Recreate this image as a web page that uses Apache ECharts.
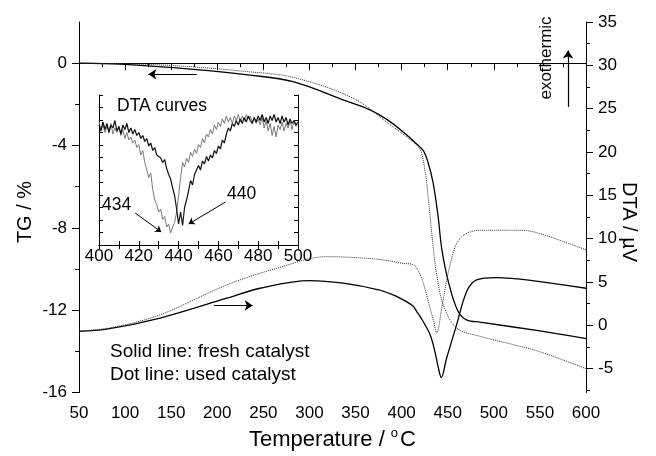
<!DOCTYPE html>
<html>
<head>
<meta charset="utf-8">
<script src="https://cdn.jsdelivr.net/npm/echarts@6/dist/echarts.min.js"></script>
<style>html,body{margin:0;padding:0;background:#fff}#c{width:656px;height:456px}</style>
</head>
<body>
<div id="c"></div>
<script>
// ---- data ----
const tgFreshT = [50, 94.5, 173.7, 235.5, 282.2, 336.4, 365.7, 387.4, 403.7, 414.5, 423.5, 428.5, 434, 439.5, 443.5, 450.6, 461.1, 470.9, 485, 550, 600];
const tgFresh  = [0, -0.05, -0.30, -0.58, -0.90, -1.78, -2.27, -2.84, -3.42, -3.85, -4.25, -4.80, -5.78, -7.42, -9.01, -10.60, -12.05, -12.48, -12.58, -13.01, -13.38];
const tgUsedT  = [50, 120, 173.7, 230, 282.2, 347.2, 387.4, 409.1, 419.9, 425.4, 429, 434.4, 438.1, 445.2, 459.7, 485, 520.8, 550, 600];
const tgUsed   = [0, -0.05, -0.18, -0.40, -0.69, -1.70, -2.99, -3.71, -4.19, -5.25, -6.60, -9.01, -10.29, -11.74, -12.87, -13.27, -13.67, -14.02, -14.84];
const dtaFreshT = [50, 80, 137.9, 210.2, 246.4, 300.6, 336.4, 375, 390.7, 398.2, 412.3, 416.3, 423, 430.8, 436, 439.8, 443, 448.9, 459.7, 470.6, 481.4, 503.1, 550, 600];
const dtaFresh  = [-0.70, -0.45, 0.84, 3.13, 4.28, 5.16, 4.86, 4.1, 3.52, 3.14, 2.22, 1.61, 0.5, -1.07, -3.0, -4.89, -6.03, -3.74, 0.08, 3.91, 5.24, 5.51, 5.05, 4.28];
const dtaUsedT  = [50, 83.6, 137.9, 210.2, 264.5, 318.7, 372.9, 401.5, 412.3, 417.8, 423.5, 430.8, 434.4, 438.1, 443.5, 452.5, 463.3, 485, 528.4, 550, 600];
const dtaUsed   = [-0.65, -0.3, 1.22, 4.66, 6.58, 7.92, 7.64, 7.15, 7.0, 6.35, 4.86, 1.99, 0.61, -0.87, 1.99, 6.95, 10.01, 10.97, 10.97, 10.59, 8.7];

const insetT = [400,401,402,403,404,405,406,407,408,409,410,411,412,413,414,415,416,417,418,419,420,421,422,423,424,425,426,427,428,429,430,431,432,433,434,435,436,437,438,439,440,441,442,443,444,445,446,447,448,449,450,451,452,453,454,455,456,457,458,459,460,461,462,463,464,465,466,467,468,469,470,471,472,473,474,475,476,477,478,479,480,481,482,483,484,485,486,487,488,489,490,491,492,493,494,495,496,497,498,499,500];
const insetFresh = [80,76,82,77,81,75,80,78,83,76,79,74,80,77,81,75,78,74,77,73,75,71,73,69,71,66,68,63,65,60,61,58,55,57,51,47,44,38,33,24,14,22,13,25,30,36,43,40,47,50,53,50,56,54,59,56,60,58,63,61,66,64,70,68,74,78,76,81,79,83,80,84,81,85,82,86,83,81,85,82,86,83,87,82,85,81,86,83,87,82,85,81,86,82,85,80,84,81,83,80,82];
const insetUsed  = [82,77,80,75,79,76,81,74,78,75,79,73,77,71,75,70,72,68,70,65,67,60,63,55,54,45,48,37,30,27,22,24,17,19,12,14,8,12,15,22,33,45,55,52,58,55,62,59,64,61,67,65,71,68,74,72,77,74,80,77,82,79,84,81,86,82,85,81,86,83,87,82,86,83,87,84,86,82,85,81,84,80,85,78,83,76,81,73,79,72,80,77,82,76,81,78,83,77,82,79,81];

const xMajor = 50;
const tgTicks = [-16, -12, -8, -4, 0];
const tgMinor = [-14, -10, -6, -2];
const dtaTicks = [-5, 0, 5, 10, 15, 20, 25, 30, 35];
const dtaMinor = [-7.5, -2.5, 2.5, 7.5, 12.5, 17.5, 22.5, 27.5, 32.5];

const pairs = (xs, ys) => xs.map((x, i) => [x, ys[i]]);
const FONT = '"Liberation Sans", Arial, sans-serif';
const black = '#000';

const chart = echarts.init(document.getElementById('c'), null, {renderer: 'canvas'});
const lineAx = {show: true, lineStyle: {color: black, width: 1}};

const option = {
  backgroundColor: '#fff',
  animation: false,
  textStyle: {fontFamily: FONT},
  grid: [
    {left: 79, right: 70, top: 22, bottom: 61},
    {left: 99, width: 199, top: 95, height: 150}
  ],
  xAxis: [
    {gridIndex: 0, type: 'value', position: 'bottom', min: 50, max: 600, interval: xMajor,
     axisLine: lineAx, axisTick: {show: true, inside: false, length: 7, lineStyle: {color: black}},
     minorTick: {show: true, splitNumber: 2, length: 4, lineStyle: {color: black}},
     axisLabel: {color: black, fontSize: 17, fontFamily: FONT, margin: 12},
     splitLine: {show: false},
     name: 'Temperature / {sup|o}C', nameLocation: 'middle', nameGap: 34,
     nameTextStyle: {color: black, fontSize: 22, fontFamily: FONT, rich: {sup: {fontSize: 13, verticalAlign: 'top', padding: [0, 2, 14, 0], fontFamily: FONT}}}},
    {gridIndex: 0, type: 'value', position: 'top', min: 50, max: 600, interval: xMajor,
     axisLine: lineAx, axisTick: {show: true, inside: true, length: 4, lineStyle: {color: black}},
     minorTick: {show: true, splitNumber: 2, length: 3, lineStyle: {color: black}},
     axisLabel: {show: false}, splitLine: {show: false}},
    {gridIndex: 1, type: 'value', position: 'bottom', min: 400, max: 500, interval: 10,
     axisLine: lineAx, axisTick: {show: true, inside: true, length: 4, lineStyle: {color: black}},
     axisLabel: {color: black, fontSize: 17, fontFamily: FONT, margin: 3, formatter: v => (v % 20 === 0 ? String(v) : '')},
     splitLine: {show: false}},
    {gridIndex: 1, type: 'value', position: 'top', min: 400, max: 500, interval: 10,
     axisLine: lineAx, axisTick: {show: true, inside: true, length: 4, lineStyle: {color: black}},
     axisLabel: {show: false}, splitLine: {show: false}}
  ],
  yAxis: [
    {gridIndex: 0, type: 'value', position: 'left', min: -16, max: 2,
     axisLine: lineAx,
     axisTick: {show: true, inside: false, length: 7, customValues: tgTicks, lineStyle: {color: black}},
     axisLabel: {color: black, fontSize: 17, fontFamily: FONT, margin: 12, customValues: tgTicks},
     splitLine: {show: false}},
    {gridIndex: 0, type: 'value', position: 'left', min: -16, max: 2,
     axisLine: {show: false},
     axisTick: {show: true, inside: false, length: 4, customValues: tgMinor, lineStyle: {color: black}},
     axisLabel: {show: false}, splitLine: {show: false}},
    {gridIndex: 0, type: 'value', position: 'right', min: -7.75, max: 35,
     axisLine: lineAx,
     axisTick: {show: true, inside: false, length: 7, customValues: dtaTicks, lineStyle: {color: black}},
     axisLabel: {color: black, fontSize: 17, fontFamily: FONT, margin: 12, customValues: dtaTicks},
     splitLine: {show: false}},
    {gridIndex: 0, type: 'value', position: 'right', min: -7.75, max: 35,
     axisLine: {show: false},
     axisTick: {show: true, inside: false, length: 4, customValues: dtaMinor, lineStyle: {color: black}},
     axisLabel: {show: false}, splitLine: {show: false}},
    {gridIndex: 1, type: 'value', position: 'left', min: 0, max: 100, interval: 100 / 12,
     axisLine: lineAx, axisTick: {show: true, inside: true, length: 4, lineStyle: {color: black}},
     axisLabel: {show: false}, splitLine: {show: false}},
    {gridIndex: 1, type: 'value', position: 'right', min: 0, max: 100, interval: 100 / 12,
     axisLine: lineAx, axisTick: {show: true, inside: true, length: 4, lineStyle: {color: black}},
     axisLabel: {show: false}, splitLine: {show: false}}
  ],
  series: [
    {type: 'line', xAxisIndex: 0, yAxisIndex: 0, data: pairs(tgFreshT, tgFresh), showSymbol: false,
     smooth: 0.35, lineStyle: {color: black, width: 1.3},
     markLine: {silent: true, symbol: ['none', 'arrow'], symbolSize: 8, label: {show: false},
       lineStyle: {color: black, width: 1.2, type: 'solid'},
       data: [[{coord: [177.7, -0.54]}, {coord: [125.2, -0.54]}]]}},
    {type: 'line', xAxisIndex: 0, yAxisIndex: 0, data: pairs(tgUsedT, tgUsed), showSymbol: false,
     smooth: 0.35, lineStyle: {color: '#333', width: 1, type: 'dotted'}},
    {type: 'line', xAxisIndex: 0, yAxisIndex: 2, data: pairs(dtaFreshT, dtaFresh), showSymbol: false,
     smooth: 0.35, lineStyle: {color: black, width: 1.3},
     markLine: {silent: true, symbol: ['none', 'arrow'], symbolSize: 8, label: {show: false},
       lineStyle: {color: black, width: 1.2, type: 'solid'},
       data: [
         [{coord: [196.5, 2.3]}, {coord: [238.4, 2.3]}],
         [{coord: [580.5, 25.2]}, {coord: [580.5, 31.7]}]
       ]}},
    {type: 'line', xAxisIndex: 0, yAxisIndex: 2, data: pairs(dtaUsedT, dtaUsed), showSymbol: false,
     smooth: 0.35, lineStyle: {color: '#333', width: 1, type: 'dotted'}},
    {type: 'line', xAxisIndex: 2, yAxisIndex: 4, data: pairs(insetT, insetUsed), showSymbol: false,
     lineStyle: {color: '#7a7a7a', width: 1}},
    {type: 'line', xAxisIndex: 2, yAxisIndex: 4, data: pairs(insetT, insetFresh), showSymbol: false,
     lineStyle: {color: '#111', width: 1.2},
     markLine: {silent: true, symbol: ['none', 'arrow'], symbolSize: 6, label: {show: false},
       lineStyle: {color: black, width: 1, type: 'solid'},
       data: [
         [{coord: [418.2, 21.3]}, {coord: [431.3, 8.7]}],
         [{coord: [463.6, 28.7]}, {coord: [445, 14]}]
       ]}}
  ],
  graphic: [
    {type: 'text', x: 25, y: 212, rotation: Math.PI / 2,
     style: {text: 'TG / %', fontSize: 20, fontFamily: FONT, fill: black, align: 'center', verticalAlign: 'middle'}},
    {type: 'text', x: 629, y: 222, rotation: -Math.PI / 2,
     style: {text: 'DTA / µV', fontSize: 20, fontFamily: FONT, fill: black, align: 'center', verticalAlign: 'middle'}},
    {type: 'text', left: 110, top: 342, style: {text: 'Solid line: fresh catalyst', fontSize: 19, fontFamily: FONT, fill: black}},
    {type: 'text', left: 110, top: 365, style: {text: 'Dot line: used catalyst', fontSize: 19, fontFamily: FONT, fill: black}},
    {type: 'text', left: 117, top: 97, style: {text: 'DTA curves', fontSize: 17.5, fontFamily: FONT, fill: black}},
    {type: 'text', left: 102, top: 196, style: {text: '434', fontSize: 17.5, fontFamily: FONT, fill: black}},
    {type: 'text', left: 227, top: 185, style: {text: '440', fontSize: 17.5, fontFamily: FONT, fill: black}},
    {type: 'text', x: 546, y: 58, rotation: Math.PI / 2,
     style: {text: 'exothermic', fontSize: 17, fontFamily: FONT, fill: black, align: 'center', verticalAlign: 'middle'}}
  ]
};
chart.setOption(option);
</script>
</body>
</html>
